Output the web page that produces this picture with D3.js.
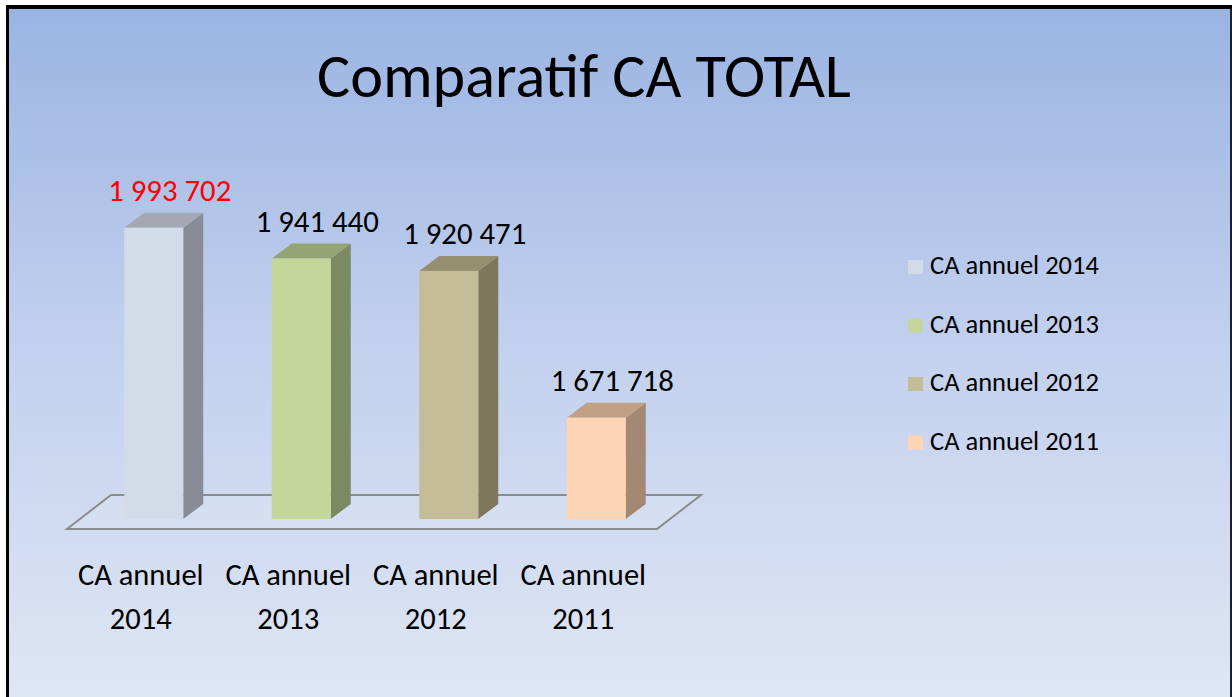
<!DOCTYPE html>
<html>
<head>
<meta charset="utf-8">
<script src="https://cdn.jsdelivr.net/npm/d3@7"></script>
<style>
  html, body { margin: 0; padding: 0; background: #ffffff; }
  svg { display: block; }
  text { font-family: Calibri, Carlito, "Open Sans", sans-serif; }
</style>
</head>
<body>
<svg id="chart" width="1232" height="697"></svg>
<script>
// Chiffre d'affaires annuel par exercice
const categories = ["CA annuel 2014", "CA annuel 2013", "CA annuel 2012", "CA annuel 2011"];
const axisLines = [["CA annuel", "2014"], ["CA annuel", "2013"], ["CA annuel", "2012"], ["CA annuel", "2011"]];
const values = [1993702, 1941440, 1920471, 1671718];
const valueLabels = ["1 993 702", "1 941 440", "1 920 471", "1 671 718"];
const labelColors = ["#ff0000", "#000000", "#000000", "#000000"];
const frontColors = ["#d3dbe9", "#c4d69a", "#c4bc96", "#fdd4b4"];
const sideColors = ["#878c97", "#7b8a62", "#7d775c", "#a38873"];
const topColors = ["#a3a8b3", "#94a474", "#958f70", "#c1a086"];
const yDomain = [1500000, 2000000];

const W = 1232, H = 697;
const svg = d3.select("#chart");

// background gradient
const defs = svg.append("defs");
const grad = defs.append("linearGradient").attr("id", "bg").attr("x1", 0).attr("y1", 0).attr("x2", 0).attr("y2", 1);
grad.append("stop").attr("offset", "0%").attr("stop-color", "#9ab4e2");
grad.append("stop").attr("offset", "50%").attr("stop-color", "#c3d1ee");
grad.append("stop").attr("offset", "100%").attr("stop-color", "#dfe6f4");

svg.append("rect").attr("x", 9).attr("y", 9).attr("width", W - 11).attr("height", H - 9).attr("fill", "url(#bg)");

// frame
svg.append("rect").attr("x", 6).attr("y", 5).attr("width", W - 6).attr("height", 4).attr("fill", "#000");
svg.append("rect").attr("x", 6).attr("y", 5).attr("width", 3).attr("height", H - 5).attr("fill", "#000");
svg.append("rect").attr("x", W - 2).attr("y", 9).attr("width", 2).attr("height", H - 9).attr("fill", "#1b1f2e");

// title
svg.append("text")
  .attr("x", 584).attr("y", 97)
  .attr("text-anchor", "middle")
  .attr("font-size", 62)
  .attr("textLength", 534).attr("lengthAdjust", "spacingAndGlyphs")
  .attr("fill", "#000")
  .text("Comparatif CA TOTAL");

// scales
const base = 519;
const x = d3.scaleBand().domain(categories).range([80, 670]).paddingInner(0.6).paddingOuter(0.3);
const y = d3.scaleLinear().domain(yDomain).range([base, 224]);
const dx = 20, dy = -15;          // bar depth
const fShift = -13;               // floor offset relative to the band range
const fdx = 44, fdy = -34;        // floor depth

// floor
const r = x.range();
const fl = r[0] + fShift, fr = r[1] + fShift, fy = base + 10;
svg.append("path")
  .attr("d", d3.line()([[fl, fy], [fr, fy], [fr + fdx, fy + fdy], [fl + fdx, fy + fdy]]) + "Z")
  .attr("fill", "rgba(255,255,255,0.12)")
  .attr("stroke", "#8c8c8c")
  .attr("stroke-width", 2)
  .attr("stroke-linejoin", "miter");

// bars
const bars = svg.append("g").selectAll("g").data(categories).join("g");
bars.each(function (c, i) {
  const g = d3.select(this);
  const x0 = x(c), w = x.bandwidth(), t = y(values[i]);
  g.append("path")
    .attr("d", d3.line()([[x0 + w, t], [x0 + w + dx, t + dy], [x0 + w + dx, base + dy], [x0 + w, base]]) + "Z")
    .attr("fill", sideColors[i]);
  g.append("path")
    .attr("d", d3.line()([[x0, t], [x0 + dx, t + dy], [x0 + w + dx, t + dy], [x0 + w, t]]) + "Z")
    .attr("fill", topColors[i]);
  g.append("rect")
    .attr("x", x0).attr("y", t).attr("width", w).attr("height", base - t)
    .attr("fill", frontColors[i]);
  g.append("text")
    .attr("x", x0 + w / 2 + 16).attr("y", t + dy - 12)
    .attr("text-anchor", "middle")
    .attr("font-size", 30)
    .attr("textLength", 123).attr("lengthAdjust", "spacingAndGlyphs")
    .attr("fill", labelColors[i])
    .text(valueLabels[i]);
});

// category labels
const catG = svg.append("g").selectAll("text").data(categories).join("text")
  .attr("text-anchor", "middle")
  .attr("font-size", 30.5)
  .attr("fill", "#000");
catG.each(function (c, i) {
  const cx = x(c) + x.bandwidth() / 2 + fShift;
  const t = d3.select(this);
  t.append("tspan").attr("x", cx).attr("y", 585).text(axisLines[i][0]);
  t.append("tspan").attr("x", cx).attr("y", 629).text(axisLines[i][1]);
});

// legend
const legend = svg.append("g").attr("transform", "translate(908,260)");
const items = legend.selectAll("g").data(categories).join("g")
  .attr("transform", (d, i) => `translate(0,${i * 58.5})`);
items.append("rect").attr("width", 15).attr("height", 14).attr("fill", (d, i) => frontColors[i]);
items.append("text").attr("x", 22).attr("y", 14)
  .attr("font-size", 26.5).attr("fill", "#000")
  .text(d => d);
</script>
</body>
</html>
